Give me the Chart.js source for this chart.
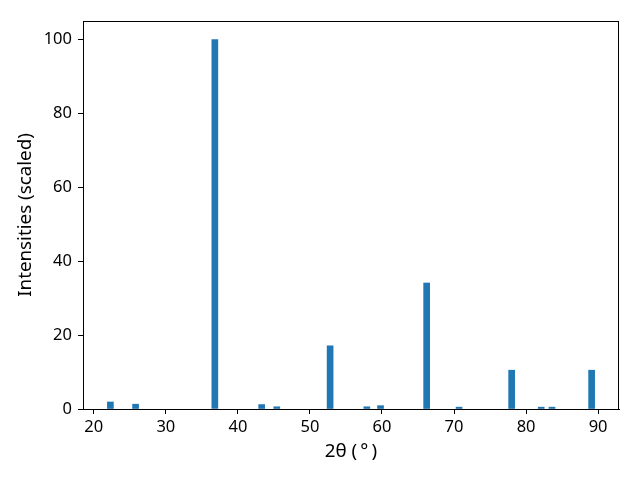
<!DOCTYPE html>
<html>
<head>
<meta charset="utf-8">
<script src="https://cdn.jsdelivr.net/npm/chart.js@4/dist/chart.umd.min.js"></script>
<style>
  html, body { margin: 0; padding: 0; background: #fff; }
  #wrap { width: 640px; height: 480px; }
</style>
</head>
<body>
<div id="wrap"><canvas id="xrdChart" width="640" height="480"></canvas></div>
<script>
// peak positions (2 theta, degrees) and scaled intensities
const twoTheta = [22.3, 25.8, 36.8, 43.3, 45.4, 52.8, 57.9, 59.8, 66.2, 70.7, 78.0, 82.1, 83.6, 89.1];
const intensity = [1.9, 1.3, 100, 1.2, 0.6, 17.1, 0.6, 0.9, 34.1, 0.5, 10.5, 0.5, 0.5, 10.5];

const xTicks = [20, 30, 40, 50, 60, 70, 80, 90];
const yTicks = [0, 20, 40, 60, 80, 100];

const fontFamily = "'Noto Sans', 'DejaVu Sans', sans-serif";

// draw the full box around the plot area like matplotlib spines
const frameBox = {
  id: "frameBox",
  afterDraw(chart) {
    const { ctx, chartArea } = chart;
    ctx.save();
    ctx.strokeStyle = "#000";
    ctx.lineWidth = 1;
    ctx.strokeRect(
      Math.round(chartArea.left) + 0.5,
      Math.round(chartArea.top) + 0.5,
      Math.round(chartArea.right - chartArea.left) - 1,
      Math.round(chartArea.bottom - chartArea.top)
    );
    ctx.restore();
  },
};

const ctx = document.getElementById("xrdChart").getContext("2d");

new Chart(ctx, {
  type: "bar",
  data: {
    datasets: [
      {
        data: twoTheta.map((t, i) => ({ x: t, y: intensity[i] })),
        backgroundColor: "#1f77b4",
        borderWidth: 0,
        barThickness: 6,
      },
    ],
  },
  options: {
    responsive: false,
    animation: false,
    layout: { padding: { left: 0, right: 21, top: 21, bottom: 0 } },
    plugins: {
      legend: { display: false },
      tooltip: { enabled: false },
    },
    scales: {
      x: {
        type: "linear",
        min: 18.5,
        max: 92.9,
        offset: false,
        afterBuildTicks: (scale) => {
          scale.ticks = xTicks.map((v) => ({ value: v }));
        },
        afterFit: (scale) => {
          scale.height = 71;
        },
        grid: {
          offset: false,
          drawOnChartArea: false,
          drawTicks: true,
          tickLength: 5,
          color: "#000",
        },
        border: { color: "#000", width: 1 },
        ticks: {
          color: "#000",
          padding: 3,
          maxRotation: 0,
          font: { family: fontFamily, size: 16.5 },
        },
        title: {
          display: true,
          text: "2θ (\u2009°\u2009)",
          color: "#000",
          padding: { top: 0, bottom: 17 },
          font: { family: fontFamily, size: 18.8 },
        },
      },
      y: {
        min: 0,
        max: 105,
        afterBuildTicks: (scale) => {
          scale.ticks = yTicks.map((v) => ({ value: v }));
        },
        afterFit: (scale) => {
          scale.width = 83;
        },
        grid: {
          drawOnChartArea: false,
          drawTicks: true,
          tickLength: 5,
          color: "#000",
        },
        border: { color: "#000", width: 1 },
        ticks: {
          color: "#000",
          padding: 6,
          font: { family: fontFamily, size: 16.5 },
        },
        title: {
          display: true,
          text: "Intensities (scaled)",
          color: "#000",
          padding: { top: 14, bottom: 0 },
          font: { family: fontFamily, size: 18.8 },
        },
      },
    },
  },
  plugins: [frameBox],
});
</script>
</body>
</html>
